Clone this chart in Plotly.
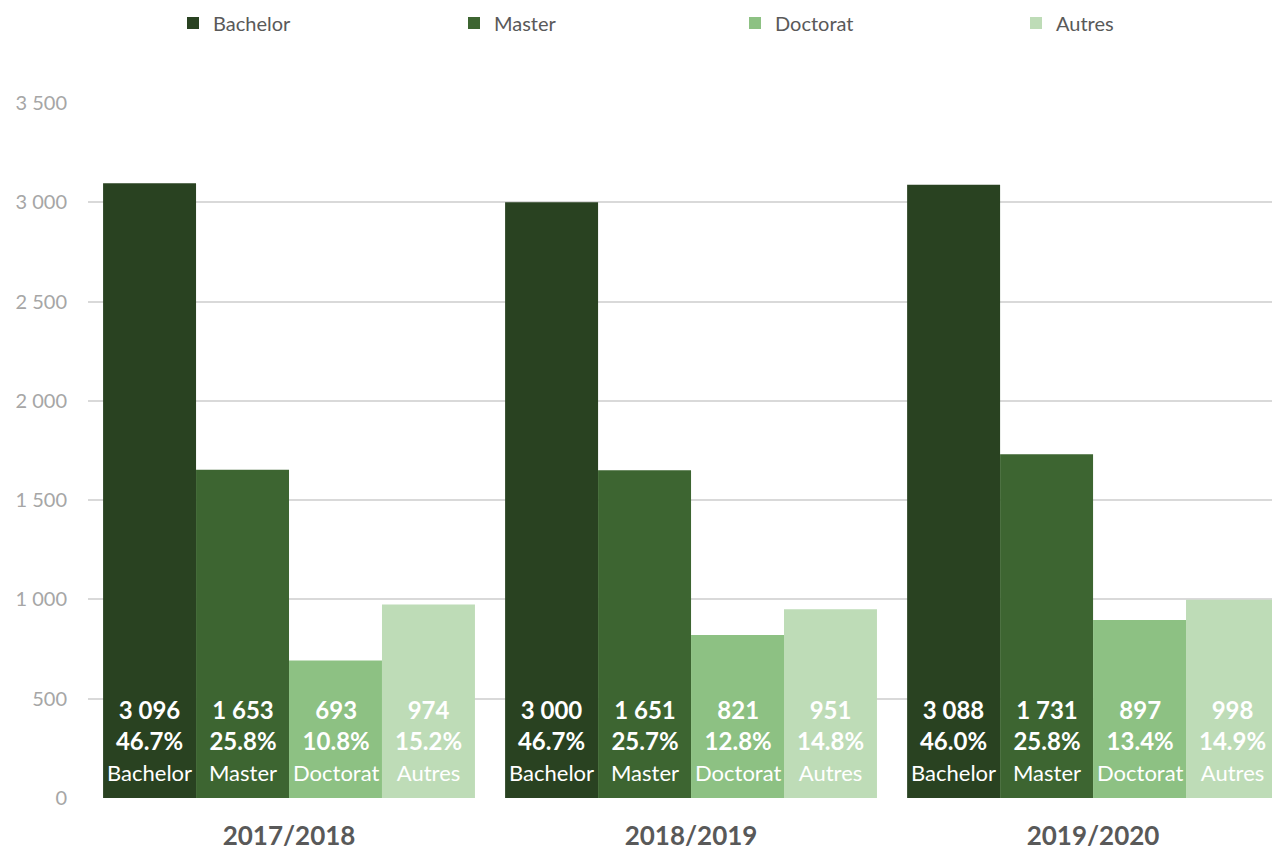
import plotly.graph_objects as go

years = ["2017/2018", "2018/2019", "2019/2020"]
series = ["Bachelor", "Master", "Doctorat", "Autres"]
values = {
    "Bachelor": [3096, 3000, 3088],
    "Master": [1653, 1651, 1731],
    "Doctorat": [693, 821, 897],
    "Autres": [974, 951, 998],
}
percents = {
    "Bachelor": ["46.7%", "46.7%", "46.0%"],
    "Master": ["25.8%", "25.7%", "25.8%"],
    "Doctorat": ["10.8%", "12.8%", "13.4%"],
    "Autres": ["15.2%", "14.8%", "14.9%"],
}
colors = {
    "Bachelor": "#294221",
    "Master": "#3D6531",
    "Doctorat": "#8DC183",
    "Autres": "#BEDCB7",
}

FONT = "Lato, 'Open Sans', sans-serif"
BARGAP = 0.075
# page body has an 8px margin in the browser; compensate so the figure fills the window
W, H = 1272, 842

fig = go.Figure()
for s in series:
    fig.add_trace(go.Bar(
        name=s,
        x=list(range(len(years))),
        y=values[s],
        marker=dict(color=colors[s], line=dict(width=0)),
        hoverinfo="skip",
    ))

# labels at the bottom of each bar, placed in data coordinates of the group layout
n = len(series)
bw = (1 - BARGAP) / n
annotations = []
for i, s in enumerate(series):
    for j, y in enumerate(years):
        v = values[s][j]
        vtxt = f"{v:,d}".replace(",", " ")
        annotations.append(dict(
            x=j + (i - (n - 1) / 2) * bw, y=0, xref="x", yref="y",
            yanchor="bottom", xanchor="center", yshift=10,
            showarrow=False, align="center",
            text=f"<b>{vtxt}</b><br><b>{percents[s][j]}</b><br><span style='font-size:22px'>{s}</span>",
            font=dict(family=FONT, size=24, color="white"),
        ))

fig.update_layout(
    width=W, height=H,
    barmode="group",
    bargap=BARGAP,
    bargroupgap=0,
    separators=". ",
    plot_bgcolor="white",
    paper_bgcolor="white",
    font=dict(family=FONT, color="#595959"),
    margin=dict(l=80, r=0, t=95, b=52, autoexpand=False),
    annotations=annotations,
    legend=dict(
        orientation="h", xref="container", x=165 / W, xanchor="left",
        yref="container", y=1 - 15 / H, yanchor="middle",
        font=dict(size=20, color="#595959"),
        entrywidth=236, entrywidthmode="pixels",
        itemsizing="constant",
    ),
    xaxis=dict(
        tickmode="array",
        tickvals=list(range(len(years))),
        ticktext=["<b>" + y + "</b>" for y in years],
        range=[-0.5, 2.465],
        tickfont=dict(size=26, color="#595959"),
        showgrid=False, zeroline=False, showline=False,
        ticklabelstandoff=20,
        automargin=False,
    ),
    yaxis=dict(
        range=[0, 3500],
        dtick=500,
        tickformat=",d",
        tickfont=dict(size=20, color="#A6A6A6"),
        gridcolor="#D9D9D9", gridwidth=1.5,
        zeroline=False, showline=False,
        ticklabelstandoff=20,
        automargin=False,
    ),
)

fig.write_html("out.html")
